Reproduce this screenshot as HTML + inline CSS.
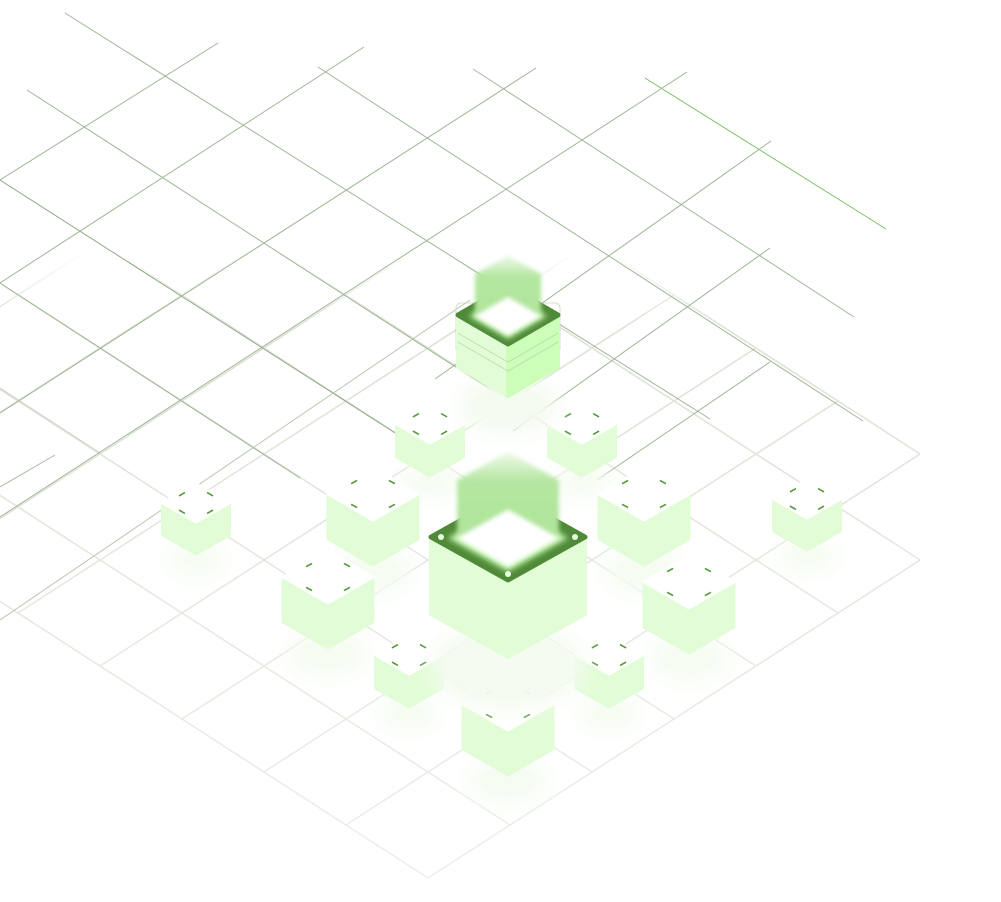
<!DOCTYPE html>
<html><head><meta charset="utf-8"><style>
html,body{margin:0;padding:0;background:#fff;}
svg{display:block;}
</style></head><body>
<svg id="scene" width="1001" height="902" viewBox="0 0 1001 902" xmlns="http://www.w3.org/2000/svg">
<defs>
  <linearGradient id="floorFade" gradientUnits="userSpaceOnUse" x1="0" y1="250" x2="0" y2="902">
    <stop offset="0" stop-color="#fff" stop-opacity="0"/>
    <stop offset="0.12" stop-color="#fff" stop-opacity="1"/>
    <stop offset="1" stop-color="#fff" stop-opacity="0.5"/>
  </linearGradient>
  <mask id="floorMask" maskUnits="userSpaceOnUse" x="0" y="0" width="1001" height="902">
    <rect x="0" y="250" width="1001" height="652" fill="url(#floorFade)"/>
  </mask>
  <linearGradient id="beamGrad" x1="0" y1="0" x2="0" y2="1">
    <stop offset="0" stop-color="#b4e6a0" stop-opacity="0.2"/>
    <stop offset="0.35" stop-color="#b4e6a0" stop-opacity="1"/>
    <stop offset="1" stop-color="#b0e49a" stop-opacity="1"/>
  </linearGradient>
  <filter id="blur3" x="-30%" y="-30%" width="160%" height="160%"><feGaussianBlur stdDeviation="3"/></filter>
  <filter id="blur2" x="-30%" y="-30%" width="160%" height="160%"><feGaussianBlur stdDeviation="2"/></filter>
  <filter id="blur8" x="-50%" y="-50%" width="200%" height="200%"><feGaussianBlur stdDeviation="10"/></filter>
</defs>
<g id="floor" mask="url(#floorMask)"></g>
<g id="upper"></g>
<g id="blocks"></g>
</svg>
<script>
const NS='http://www.w3.org/2000/svg';
function mk(tag,attrs,parent){const e=document.createElementNS(NS,tag);for(const k in attrs)e.setAttribute(k,attrs[k]);parent.appendChild(e);return e;}

const floor=document.getElementById('floor');
const O=[428,878],U=[-82,-53],V=[82,-53];
function P(i,j){return [O[0]+U[0]*i+V[0]*j,O[1]+U[1]*i+V[1]*j];}
for(let i=0;i<=11;i++){
  const jmax=(i===0)?6:7;
  const a=P(i,0),b=P(i,jmax);
  const l=mk('line',{x1:a[0],y1:a[1],x2:b[0],y2:b[1],stroke:'#dde2d7','stroke-width':1.6},floor);
  
  
}
for(let j=0;j<=7;j++){
  const a=P(Math.max(0,j-6),j),b=P(12,j);
  const l=mk('line',{x1:a[0],y1:a[1],x2:b[0],y2:b[1],stroke:'#dde2d7','stroke-width':1.6},floor);
  
  
}

const upper=document.getElementById('upper');
const upperSegs=[
 [65,13,710,419,'#9fb596'],[27,90,530,415,'#9fb596'],[318,67,863,421,'#9fb596'],[473,69,854,317,'#a3b89a'],
 [645,78,886,229,'#7fbf66'],[0,180,400,436,'#8fa886'],[0,283,300,478,'#9fb596'],[0,388,100,453,'#c9d3c3'],
 [0,180,218,43,'#9fb596'],[0,283,364,47,'#9fb596'],[0,413,536,68,'#9fb596'],[0,517,687,72,'#9fb596'],
 [0,620,470,300,'#b9c8b2'],[435,379,771,141,'#9fb596'],[513,431,770,248,'#9fb596'],[597,480,770,362,'#9fb596'],
 [0,487,55,455,'#a7b99f']
];
upperSegs.forEach(s=>{
  const l=mk('line',{x1:s[0],y1:s[1],x2:s[2],y2:s[3],stroke:s[4],'stroke-width':1},upper);
  
  
});

const blocks=document.getElementById('blocks');
const cubes=[
 [430,405,67,19,33],[582,405,67,19,33],[196,484,67,19,32],[373,468,90,26,45],[644,468,90,26,45],
 [807,480,67,19,32],[328,551,90,26,45],[689,556,90,26,45],[409,636,67,19,33],[609,636,67,19,33],[508,678,90,26,45]
];
function cube(c){
  const [cx,ty,w,h,H]=c, hw=w/2;
  const g=mk('g',{},blocks);
  
  
  const sh=mk('ellipse',{cx:cx,cy:ty+2*h+H+6,rx:hw*0.9,ry:h*0.9,fill:'#f5fcf1',filter:'url(#blur8)'},g);
  
  
  const body=mk('path',{d:`M${cx-hw},${ty+h} L${cx},${ty+2*h} L${cx+hw},${ty+h} L${cx+hw},${ty+h+H} L${cx},${ty+2*h+H} L${cx-hw},${ty+h+H} Z`,fill:'#e2fcd7',stroke:'#e2fcd7','stroke-width':3,'stroke-linejoin':'round'},g);
  
  
  const top=mk('path',{d:`M${cx-hw},${ty+h} L${cx},${ty} L${cx+hw},${ty+h} L${cx},${ty+2*h} Z`,fill:'#ffffff',stroke:'#ffffff','stroke-width':3,'stroke-linejoin':'round'},g);
  
  
  const cy=ty+h, dx=w*0.21, dy=h*0.46, L=3;
  [[-1,-1,1],[1,-1,-1],[-1,1,-1],[1,1,1]].forEach(d=>{
    const x=cx+d[0]*dx, y=cy+d[1]*dy, s=d[2];
    const m=mk('line',{x1:x-L,y1:y+s*L*0.55,x2:x+L,y2:y-s*L*0.55,stroke:'#4e9a35','stroke-width':1.6},g);
    
    
  });
}
cubes.forEach(cube);

function glowBlock(cx,ty,w,h,H,beam,name,ring){
  const hw=w/2;
  const g=mk('g',{},blocks);
  
  
  const sh=mk('ellipse',{cx:cx,cy:ty+2*h+H+10,rx:hw,ry:h,fill:'#f4fbf0',filter:'url(#blur8)'},g);
  
  
  if(ring){
    const box=mk('rect',{x:cx-hw-2,y:ty+h-12,width:w+4,height:H*0.75+12,rx:5,fill:'none',stroke:'#c8d8c0','stroke-width':0.8},g);
    
    
  }
  const left=mk('path',{d:`M${cx-hw},${ty+h} L${cx},${ty+2*h} L${cx},${ty+2*h+H} L${cx-hw},${ty+h+H} Z`,fill:'#e2fcd7',stroke:'#e2fcd7','stroke-width':4,'stroke-linejoin':'round'},g);
  
  
  const right=mk('path',{d:`M${cx},${ty+2*h} L${cx+hw},${ty+h} L${cx+hw},${ty+h+H} L${cx},${ty+2*h+H} Z`,fill:ring?'#ccfdb9':'#e2fcd7',stroke:ring?'#ccfdb9':'#e2fcd7','stroke-width':4,'stroke-linejoin':'round'},g);
  
  
  if(ring){
    [H*0.35,H*0.52].forEach(o=>{
      const r=mk('path',{d:`M${cx-hw},${ty+h+o} L${cx},${ty+2*h+o} L${cx+hw},${ty+h+o}`,fill:'none',stroke:'#b5d9a5','stroke-width':0.8},g);
      
      
    });
  }
  const topf=mk('path',{d:`M${cx-hw},${ty+h} L${cx},${ty} L${cx+hw},${ty+h} L${cx},${ty+2*h} Z`,fill:'#4f8a38',stroke:'#4f8a38','stroke-width':5,'stroke-linejoin':'round'},g);
  
  
  const iw=hw*0.78, ih=h*0.78, icy=ty+h+1;
  const glow=mk('path',{d:`M${cx-iw},${icy} L${cx},${icy-ih} L${cx+iw},${icy} L${cx},${icy+ih} Z`,fill:'#c6f7b0',filter:'url(#blur3)'},g);
  
  
  const bw=hw*0.66;
  const bm=mk('path',{d:`M${cx-bw},${icy} L${cx-bw},${icy-beam} L${cx},${icy-beam-bw*0.55} L${cx+bw},${icy-beam} L${cx+bw},${icy} Z`,fill:'url(#beamGrad)',filter:'url(#blur2)'},g);
  
  
  const wi=mk('path',{d:`M${cx-iw*0.85},${icy} L${cx},${icy-ih*0.85} L${cx+iw*0.85},${icy} L${cx},${icy+ih*0.85} Z`,fill:'#ffffff',filter:'url(#blur2)'},g);
  
  
  if(!ring){
    [[cx-hw+10,ty+h],[cx,ty+2*h-6],[cx+hw-10,ty+h]].forEach(p=>{
      const d=mk('circle',{cx:p[0],cy:p[1],r:3,fill:'#e8ffe0'},g);
      
      
    });
  }
}
glowBlock(508,286,100,29,52,42,'top-glow-block',true);
glowBlock(508,494,154,43,77,58,'center-glow-block',false);
</script>
</body></html>
